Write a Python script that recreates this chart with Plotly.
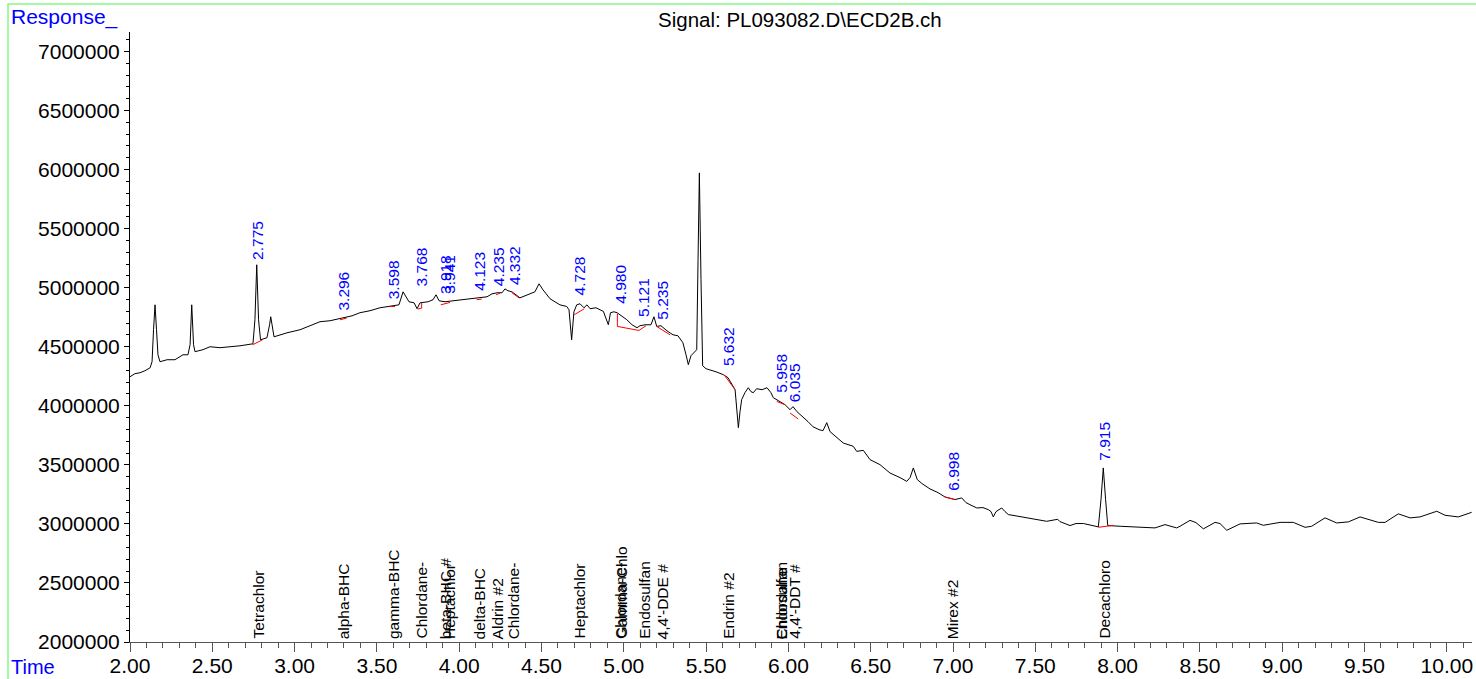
import plotly.graph_objects as go

# ---- chromatogram trace (time [min], response) ----
time = [2.000, 2.030, 2.061, 2.091, 2.122, 2.134, 2.143, 2.152, 2.161, 2.170, 2.182, 2.225, 2.273, 2.322,
        2.352, 2.365, 2.375, 2.386, 2.395, 2.443, 2.486, 2.547, 2.608, 2.668, 2.747, 2.759, 2.770, 2.781,
        2.793, 2.832, 2.848, 2.855, 2.863, 2.875, 2.954, 3.033, 3.094, 3.154, 3.215, 3.294, 3.349, 3.397,
        3.458, 3.519, 3.598, 3.634, 3.659, 3.677, 3.695, 3.726, 3.744, 3.762, 3.811, 3.841, 3.859, 3.878,
        3.914, 3.962, 4.023, 4.084, 4.126, 4.169, 4.199, 4.230, 4.260, 4.278, 4.296, 4.321, 4.369, 4.412,
        4.460, 4.485, 4.509, 4.552, 4.612, 4.653, 4.667, 4.683, 4.697, 4.714, 4.734, 4.758, 4.776, 4.795,
        4.831, 4.876, 4.892, 4.906, 4.919, 4.940, 4.959, 4.977, 5.018, 5.050, 5.080, 5.098, 5.129, 5.165,
        5.183, 5.200, 5.226, 5.262, 5.299, 5.329, 5.359, 5.378, 5.392, 5.408, 5.426, 5.443, 5.451, 5.459,
        5.469, 5.479, 5.499, 5.524, 5.560, 5.605, 5.633, 5.676, 5.685, 5.696, 5.706, 5.716, 5.736, 5.756,
        5.773, 5.787, 5.807, 5.840, 5.870, 5.894, 5.908, 5.949, 5.979, 6.010, 6.028, 6.052, 6.088, 6.119,
        6.149, 6.186, 6.210, 6.233, 6.253, 6.293, 6.333, 6.394, 6.415, 6.455, 6.496, 6.556, 6.617, 6.678,
        6.719, 6.739, 6.759, 6.783, 6.812, 6.860, 6.909, 6.951, 7.012, 7.053, 7.079, 7.103, 7.144, 7.182,
        7.214, 7.231, 7.245, 7.261, 7.296, 7.316, 7.336, 7.407, 7.468, 7.569, 7.636, 7.650, 7.711, 7.747,
        7.792, 7.844, 7.883, 7.899, 7.913, 7.927, 7.940, 8.015, 8.093, 8.156, 8.227, 8.288, 8.359, 8.379,
        8.440, 8.476, 8.521, 8.592, 8.622, 8.663, 8.744, 8.845, 8.885, 8.987, 9.067, 9.139, 9.179, 9.260,
        9.331, 9.402, 9.473, 9.584, 9.625, 9.705, 9.777, 9.837, 9.939, 9.989, 10.070, 10.151]

response = [4246000, 4272000, 4280000, 4297000, 4322000, 4373000, 4644000, 4855000, 4644000, 4432000,
            4373000, 4390000, 4390000, 4432000, 4432000, 4517000, 4855000, 4517000, 4458000, 4475000,
            4500000, 4492000, 4500000, 4508000, 4525000, 4728000, 5194000, 4728000, 4559000, 4576000,
            4686000, 4754000, 4686000, 4584000, 4618000, 4644000, 4678000, 4712000, 4720000, 4745000,
            4762000, 4788000, 4805000, 4830000, 4847000, 4855000, 4965000, 4923000, 4881000, 4872000,
            4822000, 4872000, 4881000, 4898000, 4940000, 4889000, 4881000, 4889000, 4898000, 4906000,
            4914000, 4923000, 4948000, 4957000, 4957000, 4990000, 4974000, 4965000, 4914000, 4940000,
            4965000, 5033000, 4982000, 4906000, 4855000, 4841000, 4813000, 4559000, 4796000, 4855000,
            4864000, 4830000, 4855000, 4822000, 4830000, 4799000, 4745000, 4686000, 4788000, 4796000,
            4788000, 4771000, 4729000, 4686000, 4661000, 4678000, 4686000, 4686000, 4754000, 4672000,
            4678000, 4635000, 4601000, 4593000, 4534000, 4432000, 4348000, 4424000, 4449000, 4475000,
            5236000, 5972000, 5067000, 4339000, 4314000, 4305000, 4288000, 4263000, 4238000, 4136000,
            3967000, 3815000, 3950000, 4052000, 4111000, 4153000, 4119000, 4111000, 4145000, 4136000,
            4153000, 4111000, 4069000, 4035000, 4010000, 3967000, 3993000, 3950000, 3908000, 3866000,
            3823000, 3798000, 3789000, 3857000, 3781000, 3730000, 3685000, 3657000, 3614000, 3623000,
            3544000, 3502000, 3431000, 3392000, 3360000, 3392000, 3474000, 3375000, 3341000, 3296000,
            3265000, 3228000, 3206000, 3220000, 3180000, 3163000, 3135000, 3138000, 3121000, 3104000,
            3059000, 3104000, 3135000, 3104000, 3079000, 3062000, 3045000, 3022000, 3039000, 3019000,
            2986000, 3003000, 3003000, 2986000, 2975000, 3205000, 3474000, 3205000, 2986000, 2980000,
            2975000, 2975000, 2966000, 2994000, 2966000, 2980000, 3030000, 3011000, 2958000, 3013000,
            3003000, 2946000, 3000000, 3008000, 2988000, 3013000, 3013000, 2971000, 2980000, 3051000,
            3008000, 3017000, 3059000, 3013000, 3013000, 3085000, 3051000, 3059000, 3107000, 3073000,
            3059000, 3098000]

# ---- integration baselines (red) : list of (times, responses) ----
base_t = [[2.745, 2.806], [3.276, 3.317], [3.580, 3.610], [3.748, 3.772, 3.772], [3.888, 3.918, 3.944],
          [4.106, 4.137], [4.224, 4.248], [4.319, 4.365], [4.699, 4.760],
          [4.961, 4.961, 5.092, 5.135], [5.200, 5.281], [5.609, 5.676], [5.929, 5.979],
          [6.010, 6.060], [6.951, 7.012], [7.883, 7.974]]
base_r = [[4517000, 4559000], [4728000, 4743000], [4841000, 4841000], [4819000, 4827000, 4872000],
          [4855000, 4866000, 4875000], [4898000, 4904000], [4940000, 4954000], [4959000, 4912000],
          [4771000, 4822000], [4779000, 4672000, 4638000, 4678000], [4672000, 4601000],
          [4263000, 4136000], [4037000, 4009000], [3939000, 3888000], [3228000, 3206000],
          [2971000, 2988000]]

# ---- retention time labels ----
rt_text = ["2.775", "3.296", "3.598", "3.768", "3.918", "3.941", "4.123", "4.235", "4.332", "4.728",
           "4.980", "5.121", "5.235", "5.632", "5.958", "6.035", "6.998", "7.915"]
rt_x = [2.775, 3.296, 3.598, 3.768, 3.918, 3.941, 4.123, 4.235, 4.332, 4.728,
        4.980, 5.121, 5.235, 5.632, 5.958, 6.035, 6.998, 7.915]
rt_y = [5219000, 4788000, 4881000, 4990000, 4931000, 4931000, 4957000, 4999000, 5008000, 4914000,
        4847000, 4737000, 4712000, 4322000, 4094000, 4010000, 3265000, 3519000]

# ---- compound names ----
cmp_text = ["Tetrachlor", "alpha-BHC", "gamma-BHC", "Chlordane-", "beta-BHC #", "Heptachlor",
            "delta-BHC", "Aldrin #2", "Chlordane-", "Heptachlor", "Gamma-Chlo", "Chlordane-",
            "Endosulfan", "4,4'-DDE #", "Endrin #2", "Endosulfan", "Chlordane", "4,4'-DDT #",
            "Mirex #2", "Decachloro"]
cmp_x = [2.775, 3.296, 3.598, 3.768, 3.918, 3.941, 4.123, 4.235, 4.332, 4.728, 4.980, 4.980,
         5.121, 5.235, 5.632, 5.958, 5.958, 6.035, 6.998, 7.915]

FONT = "Liberation Sans, Arial, sans-serif"

fig = go.Figure()
fig.add_trace(go.Scatter(x=time, y=response, mode="lines",
                         line=dict(color="black", width=1), hoverinfo="skip", showlegend=False))

bx, by = [], []
for ts, rs in zip(base_t, base_r):
    bx += ts + [None]
    by += rs + [None]
fig.add_trace(go.Scatter(x=bx, y=by, mode="lines", line=dict(color="red", width=1),
                         hoverinfo="skip", showlegend=False))

ann = []
for t, x, y in zip(rt_text, rt_x, rt_y):
    ann.append(dict(x=x, y=y, xref="x", yref="y", text=t, showarrow=False, textangle=-90,
                    xanchor="center", yanchor="bottom", font=dict(family=FONT, size=15.5, color="#0000ff")))
for t, x in zip(cmp_text, cmp_x):
    ann.append(dict(x=x, y=2000000, xref="x", yref="y", text=t, showarrow=False, textangle=-90,
                    xanchor="center", yanchor="bottom", yshift=1,
                    font=dict(family=FONT, size=15.5, color="black")))
ann.append(dict(x=-0.0902, y=1.0246, xref="paper", yref="paper", text="Response_", showarrow=False,
                xanchor="left", yanchor="middle", font=dict(family=FONT, size=21, color="#0000ff")))
ann.append(dict(x=-0.0902, y=-0.0418, xref="paper", yref="paper", text="Time", showarrow=False,
                xanchor="left", yanchor="middle", font=dict(family=FONT, size=20, color="#0000ff")))
ann.append(dict(x=0.499, y=1.0213, xref="paper", yref="paper", text="Signal: PL093082.D\\ECD2B.ch",
                showarrow=False, xanchor="center", yanchor="middle",
                font=dict(family=FONT, size=20.5, color="black")))

fig.update_layout(
    width=1476, height=679,
    margin=dict(l=130, r=4, t=32, b=37, autoexpand=False),
    paper_bgcolor="white", plot_bgcolor="white",
    annotations=ann,
    shapes=[dict(type="rect", xref="paper", yref="paper", x0=-0.0909, x1=1.05, y0=-0.2, y1=1.0459,
                 line=dict(color="#86f986", width=1.5), layer="below")],
    xaxis=dict(range=[2, 10.153], tick0=2, dtick=0.5, tickformat=".2f", showgrid=False, zeroline=False,
               automargin=False, ticklabelstandoff=-4,
               showline=True, linecolor="#555555", linewidth=1, ticks="outside", ticklen=9,
               tickcolor="#555555", tickfont=dict(family=FONT, size=21, color="black"),
               minor=dict(dtick=0.1, ticks="outside", ticklen=5, tickcolor="#555555")),
    yaxis=dict(range=[2000000, 7165000], tick0=2000000, dtick=500000, tickformat="d", showgrid=False,
               automargin=False,
               zeroline=False, showline=True, linecolor="black", linewidth=1, ticks="outside", ticklen=5,
               tickcolor="black", tickfont=dict(family=FONT, size=21, color="black"),
               minor=dict(dtick=100000, ticks="outside", ticklen=3, tickcolor="black")),
)

fig.write_html("out.html", config={"displayModeBar": False},
               post_script="document.body.style.margin='0';document.body.style.overflow='hidden';")
